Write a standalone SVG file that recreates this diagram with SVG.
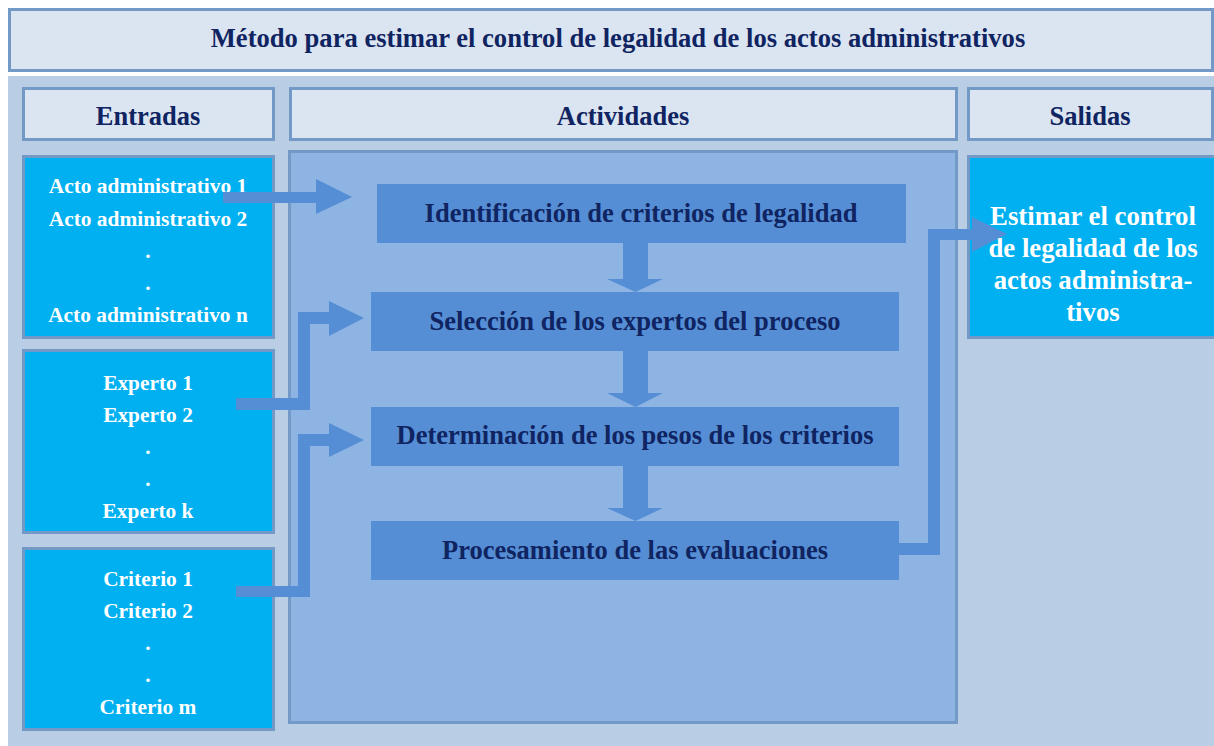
<svg xmlns="http://www.w3.org/2000/svg" width="1214" height="746" viewBox="0 0 1214 746">
<style>
.hdr{fill:#DBE5F1;stroke:#7399C6;stroke-width:3}
.in{fill:#00B0F0;stroke:#7399C6;stroke-width:3}
.act{fill:#558ED5}
.arr{fill:#558ED5}
.t{font-family:"Liberation Serif","Times New Roman",serif;font-weight:bold;text-anchor:middle}
.nav{fill:#0F2461}
.wh{fill:#FFFFFF}
</style>
<rect x="0" y="0" width="1214" height="746" fill="#FFFFFF"/>
<g id="title">
<rect x="9.5" y="9.5" width="1203" height="61" class="hdr"/>
<text x="618" y="47" class="t nav" font-size="26.6">Método para estimar el control de legalidad de los actos administrativos</text>
</g>
<rect id="panel" x="8" y="76" width="1206" height="670" fill="#B9CDE5"/>
<g id="h-entradas">
<rect x="23.5" y="88.5" width="250" height="51" class="hdr"/>
<text x="148" y="125" class="t nav" font-size="26.5">Entradas</text>
</g>
<g id="h-actividades">
<rect x="290.5" y="88.5" width="666" height="51" class="hdr"/>
<text x="623" y="125" class="t nav" font-size="26.5">Actividades</text>
</g>
<g id="h-salidas">
<rect x="968.5" y="88.5" width="244" height="51" class="hdr"/>
<text x="1090" y="125" class="t nav" font-size="26.5">Salidas</text>
</g>
<g id="act-panel">
<rect x="289.5" y="151.5" width="667" height="571" fill="#8EB4E3" stroke="#7399C6" stroke-width="3"/>
</g>
<g id="in-actos">
<rect x="23.5" y="156.5" width="250" height="181" class="in"/>
<text class="t wh" font-size="21.4"><tspan x="148" y="193">Acto administrativo 1</tspan><tspan x="148" y="226">Acto administrativo 2</tspan><tspan x="148" y="258">.</tspan><tspan x="148" y="290">.</tspan><tspan x="148" y="322">Acto administrativo n</tspan></text>
</g>
<g id="in-expertos">
<rect x="23.5" y="350.5" width="250" height="182" class="in"/>
<text class="t wh" font-size="21.4"><tspan x="148" y="390">Experto 1</tspan><tspan x="148" y="422">Experto 2</tspan><tspan x="148" y="454">.</tspan><tspan x="148" y="486">.</tspan><tspan x="148" y="518">Experto k</tspan></text>
</g>
<g id="in-criterios">
<rect x="23.5" y="548.5" width="250" height="181" class="in"/>
<text class="t wh" font-size="21.4"><tspan x="148" y="586">Criterio 1</tspan><tspan x="148" y="618">Criterio 2</tspan><tspan x="148" y="650">.</tspan><tspan x="148" y="682">.</tspan><tspan x="148" y="714">Criterio m</tspan></text>
</g>
<g id="out">
<rect x="968.5" y="156.5" width="250" height="181" class="in"/>
<text class="t wh" font-size="26.8"><tspan x="1093" y="225">Estimar el control</tspan><tspan x="1093" y="257">de legalidad de los</tspan><tspan x="1093" y="289">actos administra-</tspan><tspan x="1093" y="321">tivos</tspan></text>
</g>
<g id="a1">
<rect x="377" y="184" width="529" height="59" class="act"/>
<text x="641" y="222" class="t nav" font-size="26.5">Identificación de criterios de legalidad</text>
</g>
<g id="a2">
<rect x="371" y="292" width="528" height="59" class="act"/>
<text x="635" y="330" class="t nav" font-size="26.5">Selección de los expertos del proceso</text>
</g>
<g id="a3">
<rect x="371" y="407" width="528" height="59" class="act"/>
<text x="635" y="444" class="t nav" font-size="26.5">Determinación de los pesos de los criterios</text>
</g>
<g id="a4">
<rect x="371" y="521" width="528" height="59" class="act"/>
<text x="635" y="559" class="t nav" font-size="26.5">Procesamiento de las evaluaciones</text>
</g>
<g id="connectors">
<path class="arr" d="M623 243H648V279H663L635.5 292L607 279H623Z"/>
<path class="arr" d="M623 351H648V393H663L635.5 407L607 393H623Z"/>
<path class="arr" d="M623 466H648V508H663L635.5 521L607 508H623Z"/>
<path class="arr" d="M223 192H316V179L352 197L316 214V203H223Z"/>
<path class="arr" d="M236 398H298V312H329V301L364 318L329 336V324H310V410H236Z"/>
<path class="arr" d="M236 586H298V434H329V423L364 440L329 457V446H310V597H236Z"/>
<path class="arr" d="M899 543H928V229H972V217L1007 234L972 252V240H940V555H899Z"/>
</g>
</svg>
